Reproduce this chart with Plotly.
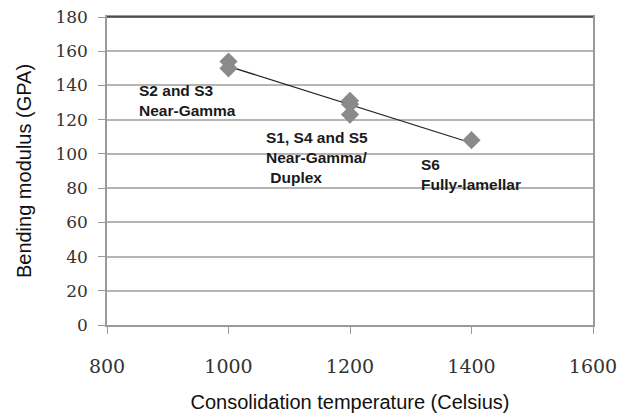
import numpy as np
import plotly.graph_objects as go

temps = [1000, 1000, 1200, 1200, 1200, 1400]
modulus = [154, 150, 131, 129, 123, 108]

label_x = [850, 1058, 1313]
label_y = [131.2, 97.8, 87.7]
label_text = ["S2 and S3<br>Near-Gamma",
              "S1, S4 and S5<br>Near-Gamma/<br> Duplex",
              "S6<br>Fully-lamellar"]

x_ticks = [800, 1000, 1200, 1400, 1600]
y_ticks = list(range(0, 181, 20))

coef = np.polyfit(temps, modulus, 1)
fit_x = [min(temps), max(temps)]
fit_y = [coef[0] * v + coef[1] for v in fit_x]

fig = go.Figure()
fig.add_trace(go.Scatter(x=fit_x, y=fit_y, mode="lines",
                         line=dict(color="#222222", width=1.2),
                         showlegend=False, hoverinfo="skip"))
fig.add_trace(go.Scatter(x=temps, y=modulus, mode="markers",
                         marker=dict(symbol="diamond", size=14, color="#8a8a8a"),
                         showlegend=False))

for x, y, t in zip(label_x, label_y, label_text):
    fig.add_annotation(x=x, y=y, text="<b>" + t + "</b>", showarrow=False,
                       xanchor="left", yanchor="middle", align="left",
                       font=dict(family="Liberation Sans, Arial", size=15.5, color="#1a1a1a"))

fig.add_shape(type="line", xref="paper", yref="paper", x0=0, x1=1, y0=1, y1=1,
              line=dict(color="#333333", width=1.5))

fig.update_layout(
    width=620, height=416,
    margin=dict(l=107, r=27, t=17, b=91),
    paper_bgcolor="white", plot_bgcolor="white",
    font=dict(family="Liberation Sans, Arial", color="#222222"),
)
fig.update_xaxes(range=[800, 1600], tickvals=x_ticks, ticktext=[str(v) for v in x_ticks],
                 showgrid=False, showline=True, linecolor="#9a9a9a", linewidth=1.5,
                 mirror=True, ticks="outside", ticklen=7, tickcolor="#9a9a9a",
                 tickfont=dict(family="DejaVu Serif, Liberation Serif", size=19, color="#333333"),
                 ticklabelstandoff=16, zeroline=False, automargin=False,
                 title=dict(text="Consolidation temperature (Celsius)", standoff=19,
                            font=dict(family="Liberation Sans, Arial", size=20, color="#111111")))
fig.update_yaxes(range=[0, 180], tickvals=y_ticks,
                 showgrid=True, gridcolor="#b5b5b5", gridwidth=1.5,
                 showline=True, linecolor="#9a9a9a", linewidth=1.5, mirror=True,
                 ticks="outside", ticklen=7, tickcolor="#9a9a9a",
                 tickfont=dict(family="DejaVu Serif, Liberation Serif", size=17, color="#333333"),
                 ticklabelstandoff=7, zeroline=False, automargin=False,
                 title=dict(text="Bending modulus (GPA)", standoff=18,
                            font=dict(family="Liberation Sans, Arial", size=20, color="#111111")))

fig.write_html("out.html")
